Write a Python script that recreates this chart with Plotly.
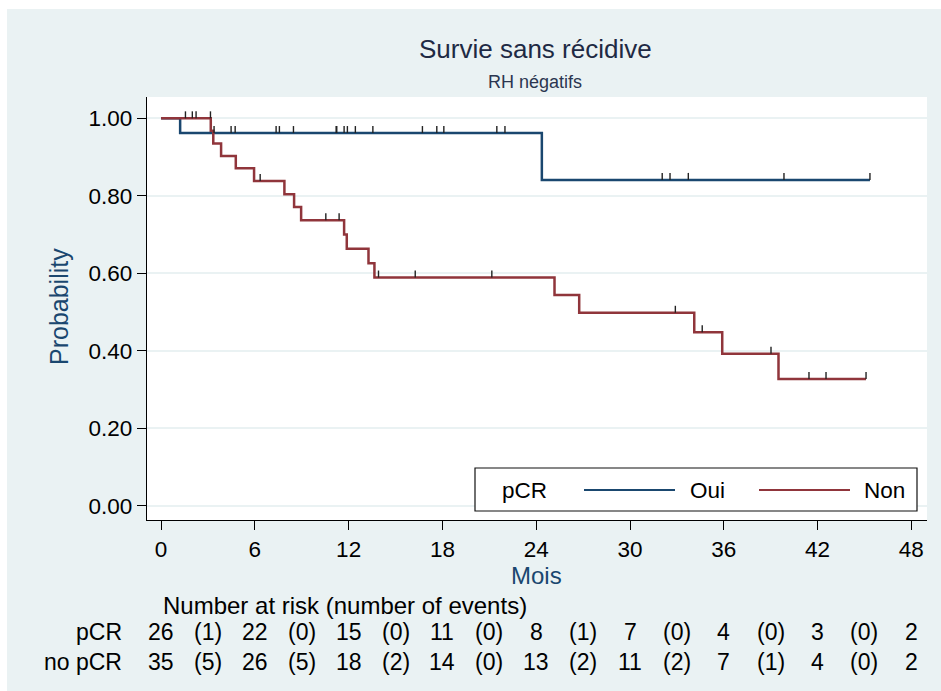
import numpy as np
import plotly.graph_objects as go

# ---- Kaplan-Meier estimates (months, survival probability) ----
oui_times = [0, 1.22, 24.36]
oui_surv = [1.0, 0.962, 0.841]
oui_end = 45.35
oui_censor = [3.39, 4.48, 4.74, 7.36, 7.57, 8.47, 11.2, 11.24, 11.71, 11.92,
              12.43, 13.55, 16.72, 17.64, 18.09, 21.48, 22.0, 32.06, 32.56,
              33.73, 39.85, 45.35]

non_times = [0, 3.18, 3.34, 3.84, 4.78, 5.95, 7.89, 8.51, 8.96, 11.71, 11.88,
             13.27, 13.65, 25.17, 26.75, 34.11, 35.9, 39.5]
non_surv = [1.0, 0.968, 0.935, 0.903, 0.871, 0.838, 0.804, 0.771, 0.737, 0.700,
            0.663, 0.626, 0.589, 0.544, 0.498, 0.448, 0.392, 0.327]
non_end = 45.1
non_censor = [1.56, 2.0, 2.24, 3.16, 6.34, 10.54, 11.39, 13.91, 16.26, 21.16,
              32.9, 34.62, 39.02, 41.45, 42.54, 45.1]

# ---- number at risk table ----
risk_times = [0, 6, 12, 18, 24, 30, 36, 42, 48]
pcr_at_risk = [26, 22, 15, 11, 8, 7, 4, 3, 2]
pcr_events = [1, 0, 0, 0, 1, 0, 0, 0]
nopcr_at_risk = [35, 26, 18, 14, 13, 11, 7, 4, 2]
nopcr_events = [5, 5, 2, 0, 2, 2, 1, 0]

x_ticks = [0, 6, 12, 18, 24, 30, 36, 42, 48]
y_ticks = [0.0, 0.2, 0.4, 0.6, 0.8, 1.0]
y_ticklabels = ["0.00", "0.20", "0.40", "0.60", "0.80", "1.00"]

BLUE = "#1A476F"
RED = "#90353B"
BG = "#EAF2F3"
FONT = "Liberation Sans, Arial, sans-serif"

W, H = 941, 691
L, R, T, B = 147, 927, 97, 520


def px_x(px):
    return (px - L) / (R - L)


def px_y(py):
    return (B - py) / (B - T)


def surv_at(t, times, surv):
    i = np.searchsorted(np.array(times), t, side="right") - 1
    return surv[max(i, 0)]


def step_xy(times, surv, end):
    return list(times) + [end], list(surv) + [surv[-1]]


def censor_xy(ctimes, times, surv, h=0.018):
    xs, ys = [], []
    for t in ctimes:
        s = surv_at(t, times, surv)
        xs += [t, t, None]
        ys += [s, s + h, None]
    return xs, ys


fig = go.Figure()

for times, surv, end, col, name in [
    (oui_times, oui_surv, oui_end, BLUE, "Oui"),
    (non_times, non_surv, non_end, RED, "Non"),
]:
    sx, sy = step_xy(times, surv, end)
    fig.add_trace(go.Scatter(x=sx, y=sy, mode="lines", line_shape="hv",
                             line=dict(color=col, width=2.5), name=name,
                             showlegend=False, hoverinfo="skip"))

for ct, times, surv in [(oui_censor, oui_times, oui_surv),
                        (non_censor, non_times, non_surv)]:
    cx, cy = censor_xy(ct, times, surv)
    fig.add_trace(go.Scatter(x=cx, y=cy, mode="lines",
                             line=dict(color="#222222", width=1.4),
                             showlegend=False, hoverinfo="skip"))

shapes = [
    # outer light frame with a thin white margin at top and left
    dict(type="rect", xref="paper", yref="paper", layer="below",
         x0=px_x(7), x1=px_x(W + 5), y0=px_y(H + 5), y1=px_y(9),
         fillcolor=BG, line=dict(width=0)),
    dict(type="rect", xref="paper", yref="paper", layer="below",
         x0=0, x1=1, y0=0, y1=1, fillcolor="white", line=dict(width=0)),
    # legend box
    dict(type="rect", xref="paper", yref="paper", layer="above",
         x0=px_x(475), x1=px_x(917), y0=px_y(511), y1=px_y(468),
         fillcolor="white", line=dict(color="#111111", width=1.2)),
    dict(type="line", xref="paper", yref="paper",
         x0=px_x(584), x1=px_x(675), y0=px_y(490), y1=px_y(490),
         line=dict(color=BLUE, width=2.2)),
    dict(type="line", xref="paper", yref="paper",
         x0=px_x(759), x1=px_x(850), y0=px_y(490), y1=px_y(490),
         line=dict(color=RED, width=2.2)),
]

ann = []


def text(x, y, s, size, color="black", xanchor="center", xref="paper", angle=0):
    ann.append(dict(x=x, y=y, xref=xref, yref="paper", text=s, showarrow=False,
                    xanchor=xanchor, yanchor="middle", textangle=angle,
                    font=dict(family=FONT, size=size, color=color)))


text(px_x(535), px_y(49), "Survie sans récidive", 26, "#1E2A44")
text(px_x(535), px_y(82), "RH négatifs", 18, "#2B3650")
text(px_x(536), px_y(575), "Mois", 24, BLUE)
text(px_x(59), px_y(307), "Probability", 25, BLUE, angle=-90)

# legend labels
text(px_x(500), px_y(490), "pCR", 22.5, xanchor="left")
text(px_x(688), px_y(490), "Oui", 22.5, xanchor="left")
text(px_x(862), px_y(490), "Non", 22.5, xanchor="left")

# number at risk table
text(px_x(345), px_y(605), "Number at risk (number of events)", 24)
text(px_x(124), px_y(632), "pCR", 23, xanchor="right")
text(px_x(124), px_y(662), "no pCR", 23, xanchor="right")
for row_y, at_risk, events in [(632, pcr_at_risk, pcr_events),
                               (662, nopcr_at_risk, nopcr_events)]:
    for t, n in zip(risk_times, at_risk):
        text(t, px_y(row_y), str(n), 23, xref="x")
    for i, e in enumerate(events):
        mid = (risk_times[i] + risk_times[i + 1]) / 2
        text(mid, px_y(row_y), f"({e})", 23, xref="x")

fig.update_layout(
    width=W, height=H,
    margin=dict(l=L, r=W - R, t=T, b=H - B, pad=0),
    paper_bgcolor="white", plot_bgcolor="rgba(0,0,0,0)",
    shapes=shapes, annotations=ann, showlegend=False,
    font=dict(family=FONT, size=22, color="black"),
)
fig.update_xaxes(range=[-0.9, 49.0], tickvals=x_ticks, ticks="outside",
                 ticklen=9, tickwidth=1.2, tickcolor="black",
                 showline=True, linecolor="black", linewidth=1.2,
                 showgrid=False, zeroline=False,
                 tickfont=dict(family=FONT, size=22.5, color="black"))
fig.update_yaxes(range=[-0.037, 1.055], tickvals=y_ticks, ticktext=y_ticklabels,
                 ticks="outside", ticklen=9, tickwidth=1.2, tickcolor="black",
                 showline=True, linecolor="black", linewidth=1.2,
                 showgrid=True, gridcolor=BG, gridwidth=2, zeroline=False,
                 tickfont=dict(family=FONT, size=22.5, color="black"))

fig.write_html("out.html")
